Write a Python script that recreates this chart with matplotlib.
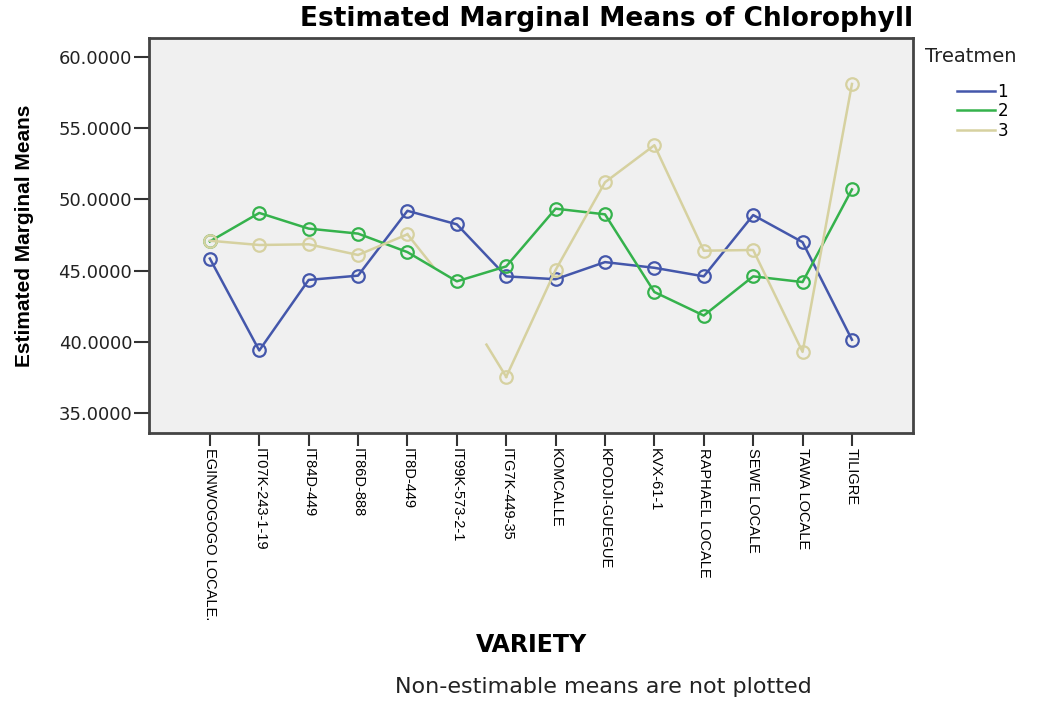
import numpy as np
import matplotlib.pyplot as plt

# varieties on the x axis
varieties = [
    "EGINWOGOGO LOCALE.", "IT07K-243-1-19", "IT84D-449", "IT86D-888",
    "IT8D-449", "IT99K-573-2-1", "ITG7K-449-35", "KOMCALLE",
    "KPODJI-GUEGUE", "KVX-61-1", "RAPHAEL LOCALE", "SEWE LOCALE",
    "TAWA LOCALE", "TILIGRE",
]

# estimated marginal means per treatment
treat1 = [45.85, 39.4, 44.35, 44.65, 49.2, 48.25, 44.6, 44.4, 45.6, 45.2, 44.6, 48.9, 47.0, 40.15]
treat2 = [47.05, 49.05, 47.95, 47.6, 46.3, 44.25, 45.3, 49.35, 48.95, 43.5, 41.85, 44.6, 44.2, 50.7]
treat3 = [47.1, 46.8, 46.85, 46.1, 47.55, np.nan, 37.55, 45.05, 51.2, 53.8, 46.4, 46.45, 39.3, 58.1]
# treatment 3 mean for IT99K-573-2-1 is non-estimable: SPSS leaves only the
# outer parts of the two segments that lead to it
treat3_hidden = 43.2
hidden_idx = 5

colors = {"1": "#4457ab", "2": "#35b24c", "3": "#d6d1a0"}

fig = plt.figure(figsize=(10.41, 7.02), dpi=100)
ax = fig.add_axes([0.143, 0.383, 0.734, 0.563])
ax.set_facecolor("#f0f0f0")

x = np.arange(len(varieties))
series = [("1", treat1), ("2", treat2), ("3", treat3)]
for name, vals in series:
    ax.plot(x, vals, color=colors[name], lw=1.8, marker="o", ms=9,
            mfc="none", mec=colors[name], mew=1.6, label=name, zorder=3)

# partial segments around the non-estimable point
for nb, frac in [(hidden_idx - 1, 0.53), (hidden_idx + 1, 0.4)]:
    y0 = treat3[nb]
    xe = nb + (hidden_idx - nb) * frac
    ye = y0 + (treat3_hidden - y0) * frac
    ax.plot([nb, xe], [y0, ye], color=colors["3"], lw=1.8, zorder=2)

ax.set_xlim(-1.235, len(varieties) - 1 + 1.235)
ax.set_ylim(33.6, 61.33)
ax.set_yticks(np.arange(35, 61, 5))
ax.set_yticklabels([f"{v:.4f}" for v in np.arange(35, 61, 5)], fontsize=13,
                   family="DejaVu Sans", color="#222222")
ax.set_xticks(x)
ax.set_xticklabels(varieties, rotation=270, fontsize=10.5,
                   family="Liberation Sans", va="top", ha="center")
ax.tick_params(axis="y", length=11, width=1.5, pad=1, color="#333333")
ax.tick_params(axis="x", length=9, width=1.5, pad=2, color="#333333")
for sp in ax.spines.values():
    sp.set_linewidth(2)
    sp.set_color("#444444")

ax.set_ylabel("Estimated Marginal Means", fontsize=15, fontweight="bold",
              family="Liberation Sans")
ax.yaxis.set_label_coords(-0.15, 0.5)

fig.text(0.877, 1 - 19 / 702, "Estimated Marginal Means of Chlorophyll",
         ha="right", va="center", fontsize=19, fontweight="bold",
         family="DejaVu Sans")
fig.text(532 / 1041, 1 - 645 / 702, "VARIETY", ha="center", va="center",
         fontsize=17, fontweight="bold", family="DejaVu Sans")
fig.text(603 / 1041, 1 - 687 / 702, "Non-estimable means are not plotted",
         ha="center", va="center", fontsize=16, family="DejaVu Sans",
         color="#222222")

fig.text(925 / 1041, 1 - 57 / 702, "Treatmen", ha="left", va="center",
         fontsize=14, family="DejaVu Sans", color="#222222")
handles = [plt.Line2D([], [], color=colors[n], lw=1.8) for n, _ in series]
leg = fig.legend(handles, [n for n, _ in series], loc="upper left",
                 bbox_to_anchor=(950 / 1041, 1 - 76 / 702), frameon=False,
                 fontsize=12, handlelength=2.3, handletextpad=0.15,
                 labelspacing=0.1, borderaxespad=0)

fig.savefig("out.png", dpi=100)
